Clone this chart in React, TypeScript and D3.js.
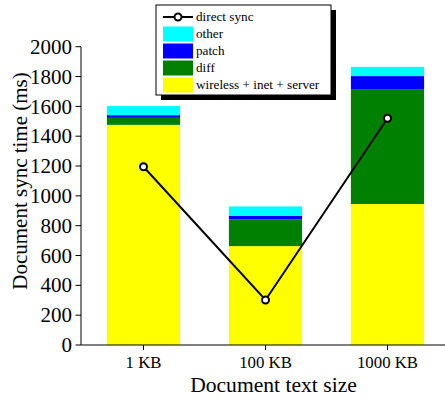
import React from "react";
import * as d3 from "d3";

const categories = ["1 KB", "100 KB", "1000 KB"];
const wireless = [1476, 663, 945];
const diff = [47, 179, 771];
const patch = [18, 25, 87];
const other = [61, 62, 62];
const directSync = [1195, 302, 1520];
const yTicks = [0, 200, 400, 600, 800, 1000, 1200, 1400, 1600, 1800, 2000];

const seriesColors = ["#ffff00", "#008000", "#0000ff", "#00ffff"];

const W = 445;
const H = 403;
const FONT = '"Liberation Serif", "Times New Roman", Times, serif';

export default function App() {
  const x = d3
    .scaleBand<string>()
    .domain(categories)
    .range([82.5, 448.5])
    .paddingInner(0.4)
    .paddingOuter(0.2);
  const y = d3.scaleLinear().domain([0, 2000]).range([345, 46.7]);

  const rows = categories.map((c, i) => ({
    cat: c,
    wireless: wireless[i],
    diff: diff[i],
    patch: patch[i],
    other: other[i],
  }));
  const stack = d3.stack<any>().keys(["wireless", "diff", "patch", "other"]);
  const layers = stack(rows);

  const line = d3
    .line<number>()
    .x((_, i) => (x(categories[i]) as number) + x.bandwidth() / 2)
    .y((d) => y(d));

  const legendItems = [
    { name: "other", color: seriesColors[3] },
    { name: "patch", color: seriesColors[2] },
    { name: "diff", color: seriesColors[1] },
    { name: "wireless + inet + server", color: seriesColors[0] },
  ];

  const ts = { fontFamily: FONT };

  return (
    <svg
      width={W}
      height={H}
      style={{ position: "absolute", left: 0, top: 0, background: "#fff", fontFamily: FONT }}
    >
      {layers.map((layer, li) => (
        <g key={li} fill={seriesColors[li]}>
          {layer.map((d, i) => (
            <rect
              key={i}
              x={x(categories[i])}
              width={x.bandwidth()}
              y={y(d[1])}
              height={y(d[0]) - y(d[1])}
            />
          ))}
        </g>
      ))}

      {/* axes */}
      <line x1={81} x2={445} y1={345} y2={345} stroke="#000" strokeWidth={1} />
      <line x1={81} x2={81} y1={46.7} y2={345} stroke="#000" strokeWidth={1} />
      {yTicks.map((t) => (
        <g key={t}>
          <line x1={75.5} x2={81} y1={y(t)} y2={y(t)} stroke="#000" />
          <text x={72} y={y(t)} dy="0.34em" textAnchor="end" fontSize={21} style={ts}>
            {t}
          </text>
        </g>
      ))}
      {categories.map((c) => {
        const cx = (x(c) as number) + x.bandwidth() / 2;
        return (
          <g key={c}>
            <line x1={cx} x2={cx} y1={345} y2={350} stroke="#000" />
            <text x={cx} y={367.5} textAnchor="middle" fontSize={16.8} style={ts}>
              {c}
            </text>
          </g>
        );
      })}
      <text x={273.5} y={392} textAnchor="middle" fontSize={21.6} style={ts}>
        Document text size
      </text>
      <text
        transform={`translate(27,181) rotate(-90)`}
        textAnchor="middle"
        fontSize={21}
        style={ts}
      >
        Document sync time (ms)
      </text>

      {/* direct sync line */}
      <path d={line(directSync) as string} fill="none" stroke="#000" strokeWidth={2} />
      {directSync.map((v, i) => (
        <circle
          key={i}
          cx={(x(categories[i]) as number) + x.bandwidth() / 2}
          cy={y(v)}
          r={3.5}
          fill="#fff"
          stroke="#000"
          strokeWidth={2}
        />
      ))}

      {/* legend */}
      <rect x={161} y={10} width={175} height={90} fill="#000" />
      <rect x={156} y={5} width={175} height={90} fill="#fff" stroke="#000" strokeWidth={1} />
      <line x1={163} x2={193} y1={17} y2={17} stroke="#000" strokeWidth={2} />
      <circle cx={178} cy={17} r={3.5} fill="#fff" stroke="#000" strokeWidth={2} />
      <text x={196} y={17} dy="0.34em" fontSize={13.2} style={ts}>
        direct sync
      </text>
      {legendItems.map((it, i) => {
        const cy = 34 + i * 17;
        return (
          <g key={it.name}>
            <rect x={163} y={cy - 7.5} width={30} height={15} fill={it.color} />
            <text x={196} y={cy} dy="0.34em" fontSize={13.2} style={ts}>
              {it.name}
            </text>
          </g>
        );
      })}
    </svg>
  );
}
